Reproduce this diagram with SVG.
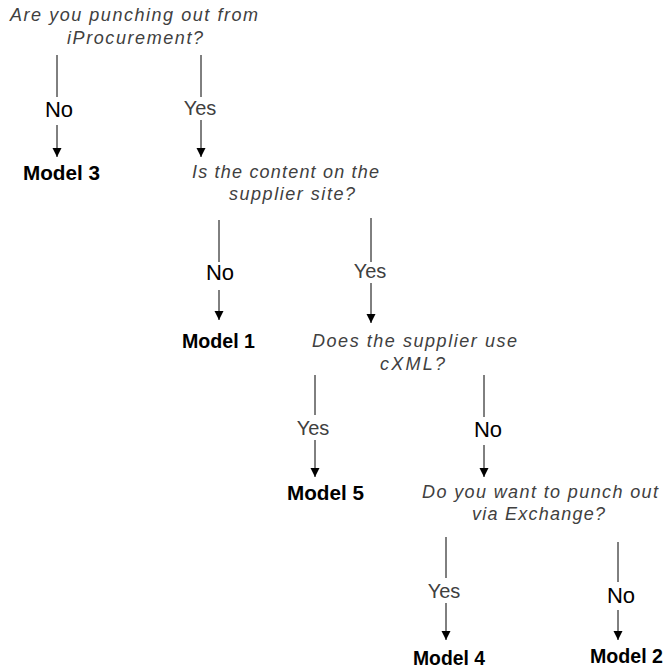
<svg xmlns="http://www.w3.org/2000/svg" width="665" height="669" viewBox="0 0 665 669">
<style>
.q{font-family:"Liberation Sans",Arial,sans-serif;font-style:italic;font-size:18px;fill:#404040}
.y{font-family:"Liberation Sans",Arial,sans-serif;font-size:20px;fill:#404040;text-anchor:middle}
.n{font-family:"Liberation Sans",Arial,sans-serif;font-size:22px;fill:#000;text-anchor:middle}
.m{font-family:"Liberation Sans",Arial,sans-serif;font-size:20px;font-weight:bold;fill:#000}
.c line{stroke:#000;stroke-width:1}
.a{marker-end:url(#ah)}
</style>
<defs>
<marker id="ah" markerUnits="userSpaceOnUse" markerWidth="9" markerHeight="10" refX="9" refY="4.5" orient="auto">
<path d="M0,0 L9,4.5 L0,9 z" fill="#000"/>
</marker>
</defs>
<rect width="665" height="669" fill="#fff"/>
<g id="q1">
<text class="q" x="10" y="21" textLength="248" lengthAdjust="spacing">Are you punching out from</text>
<text class="q" x="67" y="44" textLength="136" lengthAdjust="spacing">iProcurement?</text>
</g>
<g id="q2">
<text class="q" x="192" y="178" textLength="187" lengthAdjust="spacing">Is the content on the</text>
<text class="q" x="229" y="200" textLength="126" lengthAdjust="spacing">supplier site?</text>
</g>
<g id="q3">
<text class="q" x="312" y="347" textLength="205" lengthAdjust="spacing">Does the supplier use</text>
<text class="q" x="380" y="370" textLength="65" lengthAdjust="spacing">cXML?</text>
</g>
<g id="q4">
<text class="q" x="422" y="498" textLength="236" lengthAdjust="spacing">Do you want to punch out</text>
<text class="q" x="472" y="520" textLength="133" lengthAdjust="spacing">via Exchange?</text>
</g>
<g id="model3"><text class="m" x="23" y="180" textLength="77" lengthAdjust="spacingAndGlyphs">Model 3</text></g>
<g id="model1"><text class="m" x="182" y="348" textLength="73" lengthAdjust="spacingAndGlyphs">Model 1</text></g>
<g id="model5"><text class="m" x="287" y="500" textLength="77" lengthAdjust="spacingAndGlyphs">Model 5</text></g>
<g id="model4"><text class="m" x="413" y="665" textLength="72" lengthAdjust="spacingAndGlyphs">Model 4</text></g>
<g id="model2"><text class="m" x="590" y="663" textLength="73" lengthAdjust="spacingAndGlyphs">Model 2</text></g>
<g id="connectors" class="c">
<line x1="57" y1="55" x2="57" y2="97"/>
<line class="a" x1="57" y1="125" x2="57" y2="157"/>
<line x1="201" y1="55" x2="201" y2="97"/>
<line class="a" x1="201" y1="120" x2="201" y2="157"/>
<line x1="219" y1="220" x2="219" y2="262"/>
<line class="a" x1="219" y1="290" x2="219" y2="320"/>
<line x1="371" y1="218" x2="371" y2="262"/>
<line class="a" x1="371" y1="283" x2="371" y2="323"/>
<line x1="315" y1="375" x2="315" y2="415"/>
<line class="a" x1="315" y1="440" x2="315" y2="477"/>
<line x1="484" y1="375" x2="484" y2="417"/>
<line class="a" x1="484" y1="445" x2="484" y2="477"/>
<line x1="446" y1="537" x2="446" y2="578"/>
<line class="a" x1="446" y1="603" x2="446" y2="640"/>
<line x1="618" y1="542" x2="618" y2="582"/>
<line class="a" x1="618" y1="610" x2="618" y2="640"/>
</g>
<g id="labels">
<text class="n" x="59" y="117">No</text>
<text class="y" x="200" y="115">Yes</text>
<text class="n" x="220" y="280">No</text>
<text class="y" x="370" y="278">Yes</text>
<text class="y" x="313" y="435">Yes</text>
<text class="n" x="488" y="437">No</text>
<text class="y" x="444" y="598">Yes</text>
<text class="n" x="621" y="603">No</text>
</g>
</svg>
